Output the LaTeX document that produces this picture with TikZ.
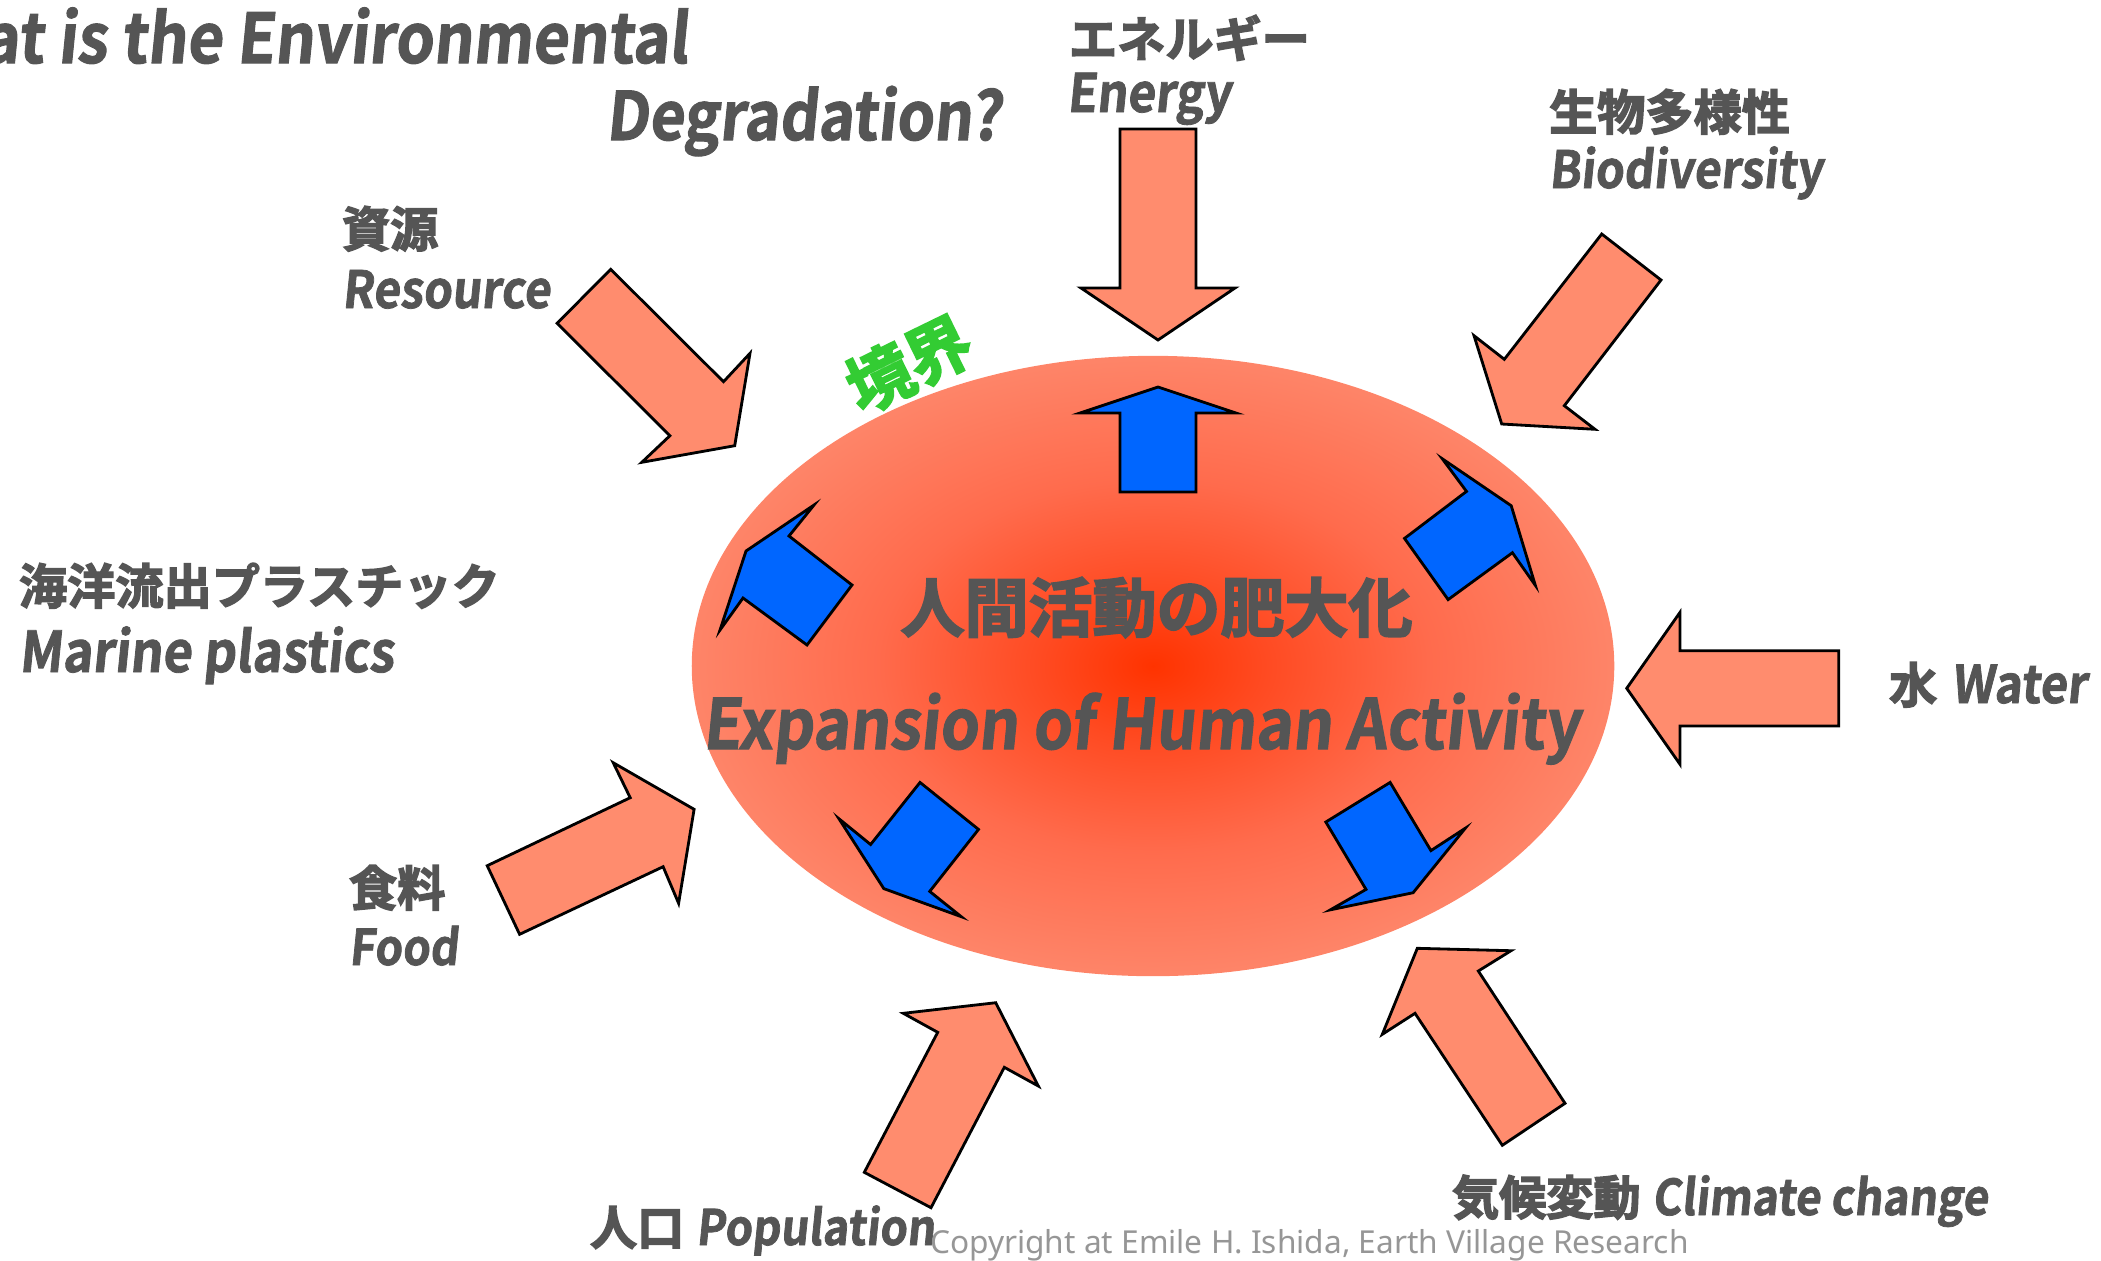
\documentclass[tikz,border=0pt]{standalone}
\usepackage{fontspec}
\usetikzlibrary{shapes.geometric}
\newfontfamily\jpf{Noto Sans CJK JP Bold}[FakeBold=3]
\newfontfamily\latf{Noto Sans CJK JP Bold}[FakeStretch=0.9,FakeSlant=0.1,FakeBold=1.5]
\newfontfamily\copyf{Noto Sans}
\definecolor{arrowsalmon}{RGB}{255,140,110}
\definecolor{arrowblue}{RGB}{0,102,255}
\definecolor{txtgray}{RGB}{85,85,85}
\definecolor{kgreen}{RGB}{51,204,51}
\definecolor{copygray}{RGB}{150,150,150}
\pgfdeclareradialshading{humanshade}{\pgfpoint{0bp}{0bp}}{rgb(0bp)=(1,0.2,0); rgb(6bp)=(1,0.29,0.13); rgb(15bp)=(1,0.42,0.3); rgb(25bp)=(0.996,0.52,0.41); rgb(35bp)=(0.99,0.59,0.47); rgb(50bp)=(0.99,0.6,0.49)}
\newcommand\jpM{\jpf\fontsize{13.7pt}{14pt}\selectfont}
\newcommand\enS[1]{\latf\fontsize{#1}{#1}\selectfont}
\begin{document}
\begin{tikzpicture}[x=0.01cm,y=-0.01cm,
  inarrow/.style={fill=arrowsalmon,draw=black,line width=0.8pt,line join=miter},
  outarrow/.style={fill=arrowblue,draw=black,line width=0.8pt,line join=miter},
  lbl/.style={text=txtgray,inner sep=0pt,outer sep=0pt}]
\useasboundingbox (0,0) rectangle (2101,1260);
% core ellipse
\node[ellipse,draw=none,shade,shading=humanshade,minimum width=9.22cm,minimum height=6.2cm,inner sep=0pt] (core) at (1153,666) {};
% blue outward arrows
\draw[outarrow] (1120,492) -- (1120,413) -- (1080,413) -- (1158,387) -- (1236,413) -- (1196,413) -- (1196,492) -- cycle;
\draw[outarrow] (852,585) -- (807,645) -- (743,598) -- (720,630) -- (746,551) -- (814,505) -- (789,536) -- cycle;
\draw[outarrow] (1404.5,538.4) -- (1466.5,491.4) -- (1442.3,458.8) -- (1511.2,505.7) -- (1535.3,585.3) -- (1512.4,552.7) -- (1448.1,599.6) -- cycle;
\draw[outarrow] (920,782.4) -- (978.5,829.4) -- (929.7,891.4) -- (961.3,916.7) -- (883.8,888.6) -- (839,818.8) -- (870.6,844.5) -- cycle;
\draw[outarrow] (1390.1,782.4) -- (1325.8,822) -- (1366,889.4) -- (1330.4,909.8) -- (1413.1,892.7) -- (1465.3,828.2) -- (1430.9,850.6) -- cycle;
% salmon inward arrows
\draw[inarrow] (1120,129) -- (1196,129) -- (1196,288) -- (1235,288) -- (1158,340) -- (1081,288) -- (1120,288) -- cycle;
\draw[inarrow] (610.7,269.3) -- (723.5,381.7) -- (750,353.3) -- (734.7,445.7) -- (641.8,462.3) -- (669.9,435.7) -- (557.1,323.3) -- cycle;
\draw[inarrow] (1601.7,234) -- (1661,280) -- (1564.3,405.7) -- (1595,429.3) -- (1501.7,424) -- (1474,335.7) -- (1504.3,359.3) -- cycle;
\draw[inarrow] (1838.7,650.7) -- (1838.7,726) -- (1680,726) -- (1680,764.3) -- (1626.7,688.3) -- (1680,612.3) -- (1680,650.7) -- cycle;
\draw[inarrow] (1565,1103.3) -- (1502.3,1145.3) -- (1415,1013.3) -- (1382.3,1034.3) -- (1417.3,948.3) -- (1511,950.7) -- (1478.3,971) -- cycle;
\draw[inarrow] (931,1207.7) -- (864.3,1172.3) -- (937.7,1032.3) -- (903.3,1013.3) -- (995.7,1002.7) -- (1038.3,1086) -- (1004.3,1067.3) -- cycle;
\draw[inarrow] (487.2,865.7) -- (630.2,797.7) -- (613.2,762.7) -- (694.1,809.3) -- (678.6,903.3) -- (663.1,866.7) -- (519.6,934.3) -- cycle;
% title
\node[lbl,anchor=base east] (title1) at (688,63) {\enS{19.5pt}What is the Environmental};
\node[lbl,anchor=base west] (title2) at (606,140) {\enS{19pt}Degradation?};
% labels
\node[lbl,anchor=north west] (enJ) at (1069,15) {\jpM エネルギー};
\node[lbl,anchor=base west] (enE) at (1067,112) {\enS{15.1pt}Energy};
\node[lbl,anchor=north west] (bioJ) at (1549,89) {\jpM 生物多様性};
\node[lbl,anchor=base west] (bioE) at (1549,188) {\enS{14.6pt}Biodiversity};
\node[lbl,anchor=north west] (resJ) at (342,206) {\jpM 資源};
\node[lbl,anchor=base west] (resE) at (342,308) {\enS{14.6pt}Resource};
\node[lbl,anchor=north west] (marJ) at (19,563) {\jpM 海洋流出プラスチック};
\node[lbl,anchor=base west] (marE) at (19,672) {\enS{16pt}Marine plastics};
\node[lbl,anchor=north west] (foodJ) at (349,865) {\jpM 食料};
\node[lbl,anchor=base west] (foodE) at (349,965) {\enS{14pt}Food};
\node[lbl,anchor=base west] (water) at (1889,703) {\jpM 水\hspace{0.3em}\enS{14.8pt}Water};
\node[lbl,anchor=base west] (climate) at (1452,1215) {\jpf\fontsize{13.4pt}{14pt}\selectfont 気候変動\hspace{0.25em}\enS{14pt}Climate change};
\node[lbl,anchor=base west] (pop) at (590,1245) {\jpf\fontsize{13.4pt}{14pt}\selectfont 人口\hspace{0.25em}\enS{13.9pt}Population};
\node[lbl,anchor=base west,text=copygray] (copy) at (930,1253) {\copyf\fontsize{9pt}{9pt}\selectfont Copyright at Emile H. Ishida, Earth Village Research};
% boundary label
\node[lbl,text=kgreen,rotate=26] (kyokai) at (909,364) {\jpf\fontsize{18.5pt}{18pt}\selectfont 境界};
% centre texts
\node[lbl] (coreJ) at (1156.5,607.5) {\jpf\fontsize{18.2pt}{19pt}\selectfont 人間活動の肥大化};
\node[lbl,anchor=base] (coreE) at (1141.5,749) {\enS{19.7pt}Expansion of Human Activity};
\end{tikzpicture}
\end{document}
